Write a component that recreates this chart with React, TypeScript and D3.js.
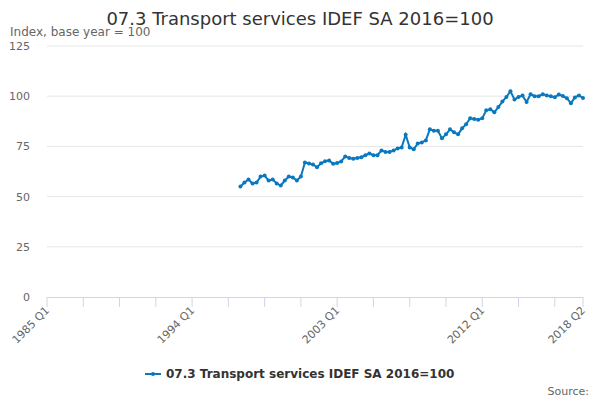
import * as d3 from "d3";

// Quarterly index values, 1997 Q1 .. 2018 Q2
const startYear = 1997;
const values: number[] = [
  55, 57, 58.5, 56.5,
  57, 60, 60.5, 58,
  58.5, 56.5, 55.5, 58,
  60, 59.5, 58, 60,
  67, 66.5, 66, 64.6,
  66.6, 67.6, 68, 66.3,
  66.7, 67.5, 70, 69.2,
  68.9, 69.2, 69.6, 70.6,
  71.5, 70.6, 70.6, 73,
  72.2, 72.2, 73, 74,
  74.5, 80.8, 74.5, 73.6,
  76.5, 77, 78, 83.5,
  82.8, 82.8, 79, 81,
  83.5, 82, 81, 84,
  86, 89, 88.6, 88.3,
  89, 93, 93.5, 92,
  94.6, 97.3, 99.6, 102.5,
  98.3, 99.6, 100.3, 97.1,
  101, 100, 100, 101,
  100.4, 100, 99.5, 100.8,
  100.1, 99, 96.5, 99.4,
  100.4, 99.1,
];

const yTicks = [0, 25, 50, 75, 100, 125];
const axisStartYear = 1985;
const lastQuarterIndex = 133; // 2018 Q2
const tickStep = 9; // quarters between ticks
const labelStep = 36; // quarters between labels

const title = "07.3 Transport services IDEF SA 2016=100";
const subtitle = "Index, base year = 100";
const seriesName = "07.3 Transport services IDEF SA 2016=100";

const quarterLabel = (i: number) =>
  `${axisStartYear + Math.floor(i / 4)} Q${(i % 4) + 1}`;

type Point = { q: number; v: number };

const points: Point[] = values.map((v, i) => ({
  q: (startYear - axisStartYear) * 4 + i,
  v,
}));

export default function App() {
  const width = 600;
  const height = 400;
  const margin = { top: 46, right: 17, bottom: 103, left: 47 };
  const color = "#0a78c0";
  const font = "DejaVu Sans, sans-serif";

  const x = d3
    .scaleLinear()
    .domain([0, lastQuarterIndex])
    .range([margin.left, width - margin.right]);
  const y = d3
    .scaleLinear()
    .domain([0, 125])
    .range([height - margin.bottom, margin.top]);

  const line = d3
    .line<Point>()
    .x((d) => x(d.q))
    .y((d) => y(d.v));

  const ticks = d3.range(0, lastQuarterIndex, tickStep).concat([lastQuarterIndex]);
  const labels = d3.range(0, lastQuarterIndex, labelStep).concat([lastQuarterIndex]);

  return (
    <svg
      width={width}
      height={height}
      style={{ position: "absolute", left: 0, top: 0, background: "#fff" }}
      fontFamily={font}
    >
      <text x={300} y={25} textAnchor="middle" fontSize={18} fill="#333">
        {title}
      </text>
      <text x={10} y={36} fontSize={12} fill="#666">
        {subtitle}
      </text>

      {/* grid + y labels */}
      {yTicks.map((t) => (
        <g key={t}>
          {t > 0 && (
            <line
              x1={margin.left}
              x2={width - margin.right}
              y1={y(t)}
              y2={y(t)}
              stroke="#e6e6e6"
            />
          )}
          <text
            x={30}
            y={y(t) + 4}
            textAnchor="end"
            fontSize={11}
            fill="#666"
          >
            {t}
          </text>
        </g>
      ))}

      {/* x axis */}
      <line
        x1={margin.left}
        x2={width - margin.right}
        y1={y(0) + 0.5}
        y2={y(0) + 0.5}
        stroke="#ccd6eb"
      />
      {ticks.map((q) => (
        <line
          key={q}
          x1={x(q)}
          x2={x(q)}
          y1={y(0)}
          y2={y(0) + 10}
          stroke="#ccd6eb"
        />
      ))}
      {labels.map((q) => (
        <text
          key={q}
          transform={`translate(${x(q) + 3},${y(0) + 14}) rotate(-45)`}
          textAnchor="end"
          fontSize={11}
          fill="#666"
        >
          {quarterLabel(q)}
        </text>
      ))}

      {/* series */}
      <path d={line(points) ?? undefined} fill="none" stroke={color} strokeWidth={2} />
      {points.map((p) => (
        <circle key={p.q} cx={x(p.q)} cy={y(p.v)} r={2} fill={color} />
      ))}

      {/* legend */}
      <line x1={145} x2={161} y1={374} y2={374} stroke={color} strokeWidth={2} />
      <circle cx={153} cy={374} r={2} fill={color} />
      <text x={166} y={378} fontSize={12} fontWeight="bold" fill="#333">
        {seriesName}
      </text>

      <text x={589} y={395} textAnchor="end" fontSize={11} fill="#666">
        Source:
      </text>
    </svg>
  );
}
